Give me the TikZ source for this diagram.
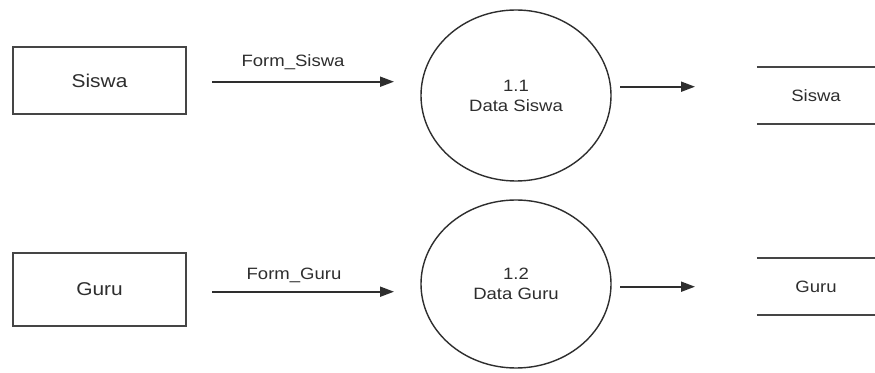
\documentclass[tikz,border=0pt]{standalone}
\usepackage{fontspec}
\setmainfont[FakeStretch=1.13]{Liberation Sans}
\usetikzlibrary{arrows.meta,shapes.geometric}
\definecolor{ink}{HTML}{2E2E2E}
\definecolor{edge}{HTML}{454545}
\tikzset{
  entity/.style={draw=edge, line width=2pt, fill=white, minimum width=173pt,
    inner sep=0pt, text=ink, font=\fontsize{18.5}{22}\selectfont},
  process/.style={ellipse, draw=ink, line width=1.4pt, minimum width=190pt,
    inner sep=0pt, text=ink, align=center, font=\fontsize{16.4}{20}\selectfont},
  store/.style={minimum width=118pt, inner sep=0pt, text=ink,
    font=\fontsize{16.4}{20}\selectfont},
  storeline/.style={draw=edge, line width=2pt},
  flow/.style={draw=ink, line width=1.8pt, -{Triangle[length=14pt,width=10pt]}},
  flowlabel/.style={text=ink, inner sep=0pt, font=\fontsize{16.4}{20}\selectfont}
}
\begin{document}
\begin{tikzpicture}[x=1pt,y=1pt]
\useasboundingbox[fill=white] (0,0) rectangle (875,372);

% external entities
\node[entity, minimum height=67pt] (ent1) at (99.5,291.5) {Siswa};
\node[entity, minimum height=73pt] (ent2) at (99.5,82.5) {Guru};

% processes
\node[process, minimum height=171pt] (proc1) at (516,276.5) {1.1\\Data Siswa};
\node[process, minimum height=168pt] (proc2) at (516,88) {1.2\\Data Guru};

% data stores
\node[store, minimum height=57pt] (st1) at (816,276.6) {Siswa};
\node[store, minimum height=57pt] (st2) at (816,85.3) {Guru};
\draw[storeline] (st1.north west) -- (st1.north east);
\draw[storeline] (st1.south west) -- (st1.south east);
\draw[storeline] (st2.north west) -- (st2.north east);
\draw[storeline] (st2.south west) -- (st2.south east);

% flow end points
\coordinate (a1s) at (212,290.3);
\coordinate (a1e) at (394,290.3);
\coordinate (a2s) at (212,80.3);
\coordinate (a2e) at (394,80.3);
\coordinate (b1s) at (620,285.3);
\coordinate (b1e) at (695,285.3);
\coordinate (b2s) at (620,85.3);
\coordinate (b2e) at (695,85.3);

% data flows
\draw[flow] (a1s) -- node[flowlabel, above=11pt, xshift=-10pt] (lab1) {Form\_Siswa} (a1e);
\draw[flow] (a2s) -- node[flowlabel, above=8pt, xshift=-9pt] (lab2) {Form\_Guru} (a2e);
\draw[flow] (b1s) -- (b1e);
\draw[flow] (b2s) -- (b2e);
\end{tikzpicture}
\end{document}
